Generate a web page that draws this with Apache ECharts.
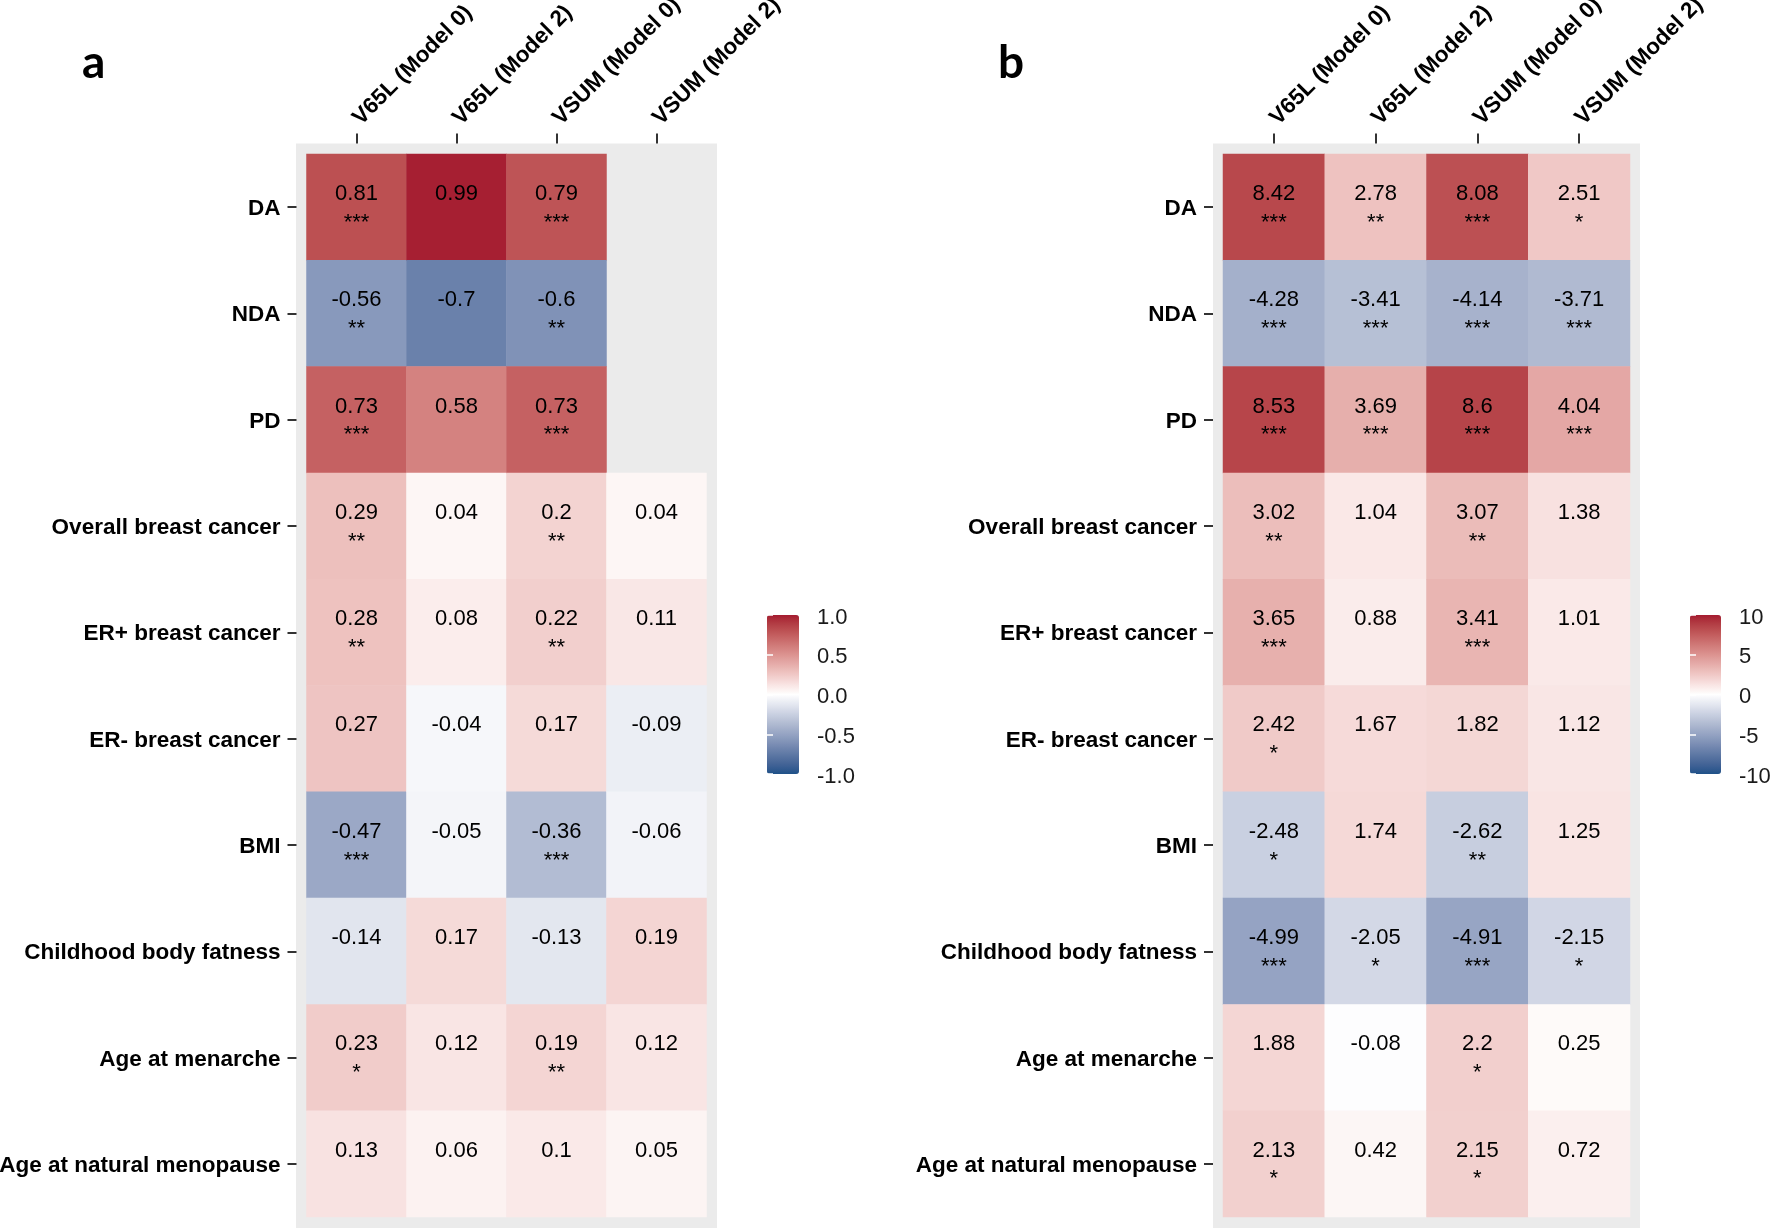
<!DOCTYPE html>
<html>
<head>
<meta charset="utf-8">
<script src="https://cdn.jsdelivr.net/npm/echarts@6/dist/echarts.min.js"></script>
<style>
  html, body { margin: 0; padding: 0; background: #fff; }
  #chart { width: 1770px; height: 1229px; }
</style>
</head>
<body>
<div id="chart"></div>
<script>
// rows (top to bottom) and columns
const traits = ['DA', 'NDA', 'PD', 'Overall breast cancer', 'ER+ breast cancer', 'ER- breast cancer',
  'BMI', 'Childhood body fatness', 'Age at menarche', 'Age at natural menopause'];
const models = ['V65L (Model 0)', 'V65L (Model 2)', 'VSUM (Model 0)', 'VSUM (Model 2)'];

// panel a
const aV65lM0 = [0.81, -0.56, 0.73, 0.29, 0.28, 0.27, -0.47, -0.14, 0.23, 0.13];
const aV65lM0Sig = ['***', '**', '***', '**', '**', '', '***', '', '*', ''];
const aV65lM2 = [0.99, -0.7, 0.58, 0.04, 0.08, -0.04, -0.05, 0.17, 0.12, 0.06];
const aV65lM2Sig = ['', '', '', '', '', '', '', '', '', ''];
const aVsumM0 = [0.79, -0.6, 0.73, 0.2, 0.22, 0.17, -0.36, -0.13, 0.19, 0.1];
const aVsumM0Sig = ['***', '**', '***', '**', '**', '', '***', '', '**', ''];
const aVsumM2 = [null, null, null, 0.04, 0.11, -0.09, -0.06, 0.19, 0.12, 0.05];
const aVsumM2Sig = ['', '', '', '', '', '', '', '', '', ''];

// panel b
const bV65lM0 = [8.42, -4.28, 8.53, 3.02, 3.65, 2.42, -2.48, -4.99, 1.88, 2.13];
const bV65lM0Sig = ['***', '***', '***', '**', '***', '*', '*', '***', '', '*'];
const bV65lM2 = [2.78, -3.41, 3.69, 1.04, 0.88, 1.67, 1.74, -2.05, -0.08, 0.42];
const bV65lM2Sig = ['**', '***', '***', '', '', '', '', '*', '', ''];
const bVsumM0 = [8.08, -4.14, 8.6, 3.07, 3.41, 1.82, -2.62, -4.91, 2.2, 2.15];
const bVsumM0Sig = ['***', '***', '***', '**', '***', '', '**', '***', '*', '*'];
const bVsumM2 = [2.51, -3.71, 4.04, 1.38, 1.01, 1.12, 1.25, -2.15, 0.25, 0.72];
const bVsumM2Sig = ['*', '***', '***', '', '', '', '', '*', '', ''];

// colour bar ticks
const aTicks = [-1, -0.5, 0, 0.5, 1];
const bTicks = [-10, -5, 0, 5, 10];

const FONT = 'Liberation Sans, Arial, sans-serif';

// gradient2-like ramp, interpolated in Lab
function hexToRgb(h) { h = h.replace('#', ''); return [0, 2, 4].map(i => parseInt(h.substr(i, 2), 16)); }
function rgbToLab(rgb) {
  const lin = c => { c /= 255; return c <= 0.04045 ? c / 12.92 : Math.pow((c + 0.055) / 1.055, 2.4); };
  const [R, G, B] = rgb.map(lin);
  const X = (0.4124 * R + 0.3576 * G + 0.1805 * B) / 0.95047;
  const Y = 0.2126 * R + 0.7152 * G + 0.0722 * B;
  const Z = (0.0193 * R + 0.1192 * G + 0.9505 * B) / 1.08883;
  const f = t => t > 0.008856 ? Math.cbrt(t) : 7.787 * t + 16 / 116;
  return [116 * f(Y) - 16, 500 * (f(X) - f(Y)), 200 * (f(Y) - f(Z))];
}
function labToHex(lab) {
  const fy = (lab[0] + 16) / 116, fx = fy + lab[1] / 500, fz = fy - lab[2] / 200;
  const inv = t => t * t * t > 0.008856 ? t * t * t : (t - 16 / 116) / 7.787;
  const X = inv(fx) * 0.95047, Y = inv(fy), Z = inv(fz) * 1.08883;
  const rgb = [3.2406 * X - 1.5372 * Y - 0.4986 * Z,
    -0.9689 * X + 1.8758 * Y + 0.0415 * Z,
    0.0557 * X - 0.2040 * Y + 1.0570 * Z];
  const g = c => {
    c = c <= 0.0031308 ? 12.92 * c : 1.055 * Math.pow(c, 1 / 2.4) - 0.055;
    return Math.round(Math.max(0, Math.min(1, c)) * 255).toString(16).padStart(2, '0');
  };
  return '#' + rgb.map(g).join('');
}
function ramp(low, mid, high, steps) {
  const lo = rgbToLab(hexToRgb(low)), mi = rgbToLab(hexToRgb(mid)), hi = rgbToLab(hexToRgb(high));
  const out = [];
  for (let i = 0; i <= steps; i++) {
    const t = i / steps;
    const p = t < 0.5 ? lo : mi, q = t < 0.5 ? mi : hi, s = t < 0.5 ? t * 2 : (t - 0.5) * 2;
    out.push(labToHex(p.map((v, k) => v + (q[k] - v) * s)));
  }
  return out;
}
const palette = ramp('#1F5188', '#FFFFFF', '#A51C30', 40);

function cells(cols, sigs) {
  const out = [];
  cols.forEach((col, c) => {
    col.forEach((v, r) => {
      if (v !== null) out.push({ value: [c, r, v], sig: sigs[c][r] });
    });
  });
  return out;
}
const aData = cells([aV65lM0, aV65lM2, aVsumM0, aVsumM2], [aV65lM0Sig, aV65lM2Sig, aVsumM0Sig, aVsumM2Sig]);
const bData = cells([bV65lM0, bV65lM2, bVsumM0, bVsumM2], [bV65lM0Sig, bV65lM2Sig, bVsumM0Sig, bVsumM2Sig]);

const chart = echarts.init(document.getElementById('chart'));

function hidden(gridIndex) {
  return { gridIndex: gridIndex, type: 'value', show: false, min: 0, max: 1 };
}
function topAxis(gridIndex) {
  return {
    gridIndex: gridIndex, type: 'category', data: models, position: 'top', offset: 10.5,
    axisLine: { show: false },
    axisTick: { show: true, alignWithLabel: true, interval: 0, length: 10, lineStyle: { color: '#333', width: 2 } },
    axisLabel: {
      interval: 0, rotate: -45, margin: 22, fontSize: 22.5, fontWeight: 'bold', color: '#000', fontFamily: FONT,
      padding: [0, 0, 20, 0]
    },
    splitLine: { show: false }
  };
}
function leftAxis(gridIndex) {
  return {
    gridIndex: gridIndex, type: 'category', data: traits, inverse: true, offset: 10,
    axisLine: { show: false },
    axisTick: { show: true, alignWithLabel: true, interval: 0, length: 9, lineStyle: { color: '#333', width: 2 } },
    axisLabel: {
      interval: 0, margin: 16, formatter: v => '{t|' + v + '}',
      rich: { t: { fontSize: 22.5, fontWeight: 'bold', color: '#000', fontFamily: FONT, padding: [3.5, 0, 0, 0] } }
    },
    splitLine: { show: false }
  };
}
function barAxis(gridIndex, ticks, fmt, side) {
  return {
    gridIndex: gridIndex, type: 'value', position: side, min: ticks[0], max: ticks[ticks.length - 1],
    interval: ticks[1] - ticks[0], z: 10,
    axisLine: { show: false },
    axisTick: { show: true, inside: true, length: 6, lineStyle: { color: '#fff', width: 1.5 } },
    axisLabel: {
      show: side === 'right', margin: 18, formatter: v => '{t|' + fmt(v) + '}',
      rich: { t: { fontSize: 22, color: '#1a1a1a', fontFamily: FONT, padding: [5, 0, 0, 0] } }
    },
    splitLine: { show: false }
  };
}

const cellLabel = {
  show: true,
  formatter: p => '{v|' + p.value[2] + '}\n{s|' + (p.data.sig || '\u00a0') + '}',
  rich: {
    v: { fontSize: 22, lineHeight: 31, color: '#000', fontFamily: FONT },
    s: { fontSize: 22, lineHeight: 26.5, color: '#000', fontFamily: FONT }
  }
};

const noBounds = { outerBoundsMode: 'none', containLabel: false };

chart.setOption({
  animation: false,
  backgroundColor: '#fff',
  title: [
    { text: 'a', left: 82, top: 40, padding: 0, textStyle: { fontSize: 46, fontWeight: 'bold', color: '#000', fontFamily: 'Lato' } },
    { text: 'b', left: 998, top: 40, padding: 0, textStyle: { fontSize: 46, fontWeight: 'bold', color: '#000', fontFamily: 'Lato' } }
  ],
  grid: [
    Object.assign({ left: 296, top: 143.5, width: 421, height: 1084.5, show: true, backgroundColor: '#EBEBEB', borderWidth: 0 }, noBounds),
    Object.assign({ left: 306.5, top: 154, width: 400, height: 1063 }, noBounds),
    Object.assign({ left: 1213, top: 143.5, width: 427, height: 1084.5, show: true, backgroundColor: '#EBEBEB', borderWidth: 0 }, noBounds),
    Object.assign({ left: 1223, top: 154, width: 407, height: 1063 }, noBounds),
    Object.assign({ left: 767, top: 615, width: 32, height: 159 }, noBounds),
    Object.assign({ left: 1690, top: 615, width: 31, height: 159 }, noBounds)
  ],
  xAxis: [hidden(0), topAxis(1), hidden(2), topAxis(3), hidden(4), hidden(5)],
  yAxis: [
    hidden(0), leftAxis(1), hidden(2), leftAxis(3),
    barAxis(4, aTicks, v => v.toFixed(1), 'right'), barAxis(4, aTicks, v => v, 'left'),
    barAxis(5, bTicks, v => String(v), 'right'), barAxis(5, bTicks, v => v, 'left')
  ],
  visualMap: [
    {
      type: 'continuous', seriesIndex: 0, min: -1, max: 1, calculable: false, orient: 'vertical',
      left: 767, top: 615, itemWidth: 32, itemHeight: 159, padding: 0, z: 1,
      inRange: { color: palette }, text: null, textStyle: { color: 'transparent' }
    },
    {
      type: 'continuous', seriesIndex: 1, min: -10, max: 10, calculable: false, orient: 'vertical',
      left: 1690, top: 615, itemWidth: 31, itemHeight: 159, padding: 0, z: 1,
      inRange: { color: palette }, text: null, textStyle: { color: 'transparent' }
    }
  ],
  series: [
    { type: 'heatmap', xAxisIndex: 1, yAxisIndex: 1, data: aData, label: cellLabel, itemStyle: { borderWidth: 0 } },
    { type: 'heatmap', xAxisIndex: 3, yAxisIndex: 3, data: bData, label: cellLabel, itemStyle: { borderWidth: 0 } }
  ]
});
</script>
</body>
</html>
